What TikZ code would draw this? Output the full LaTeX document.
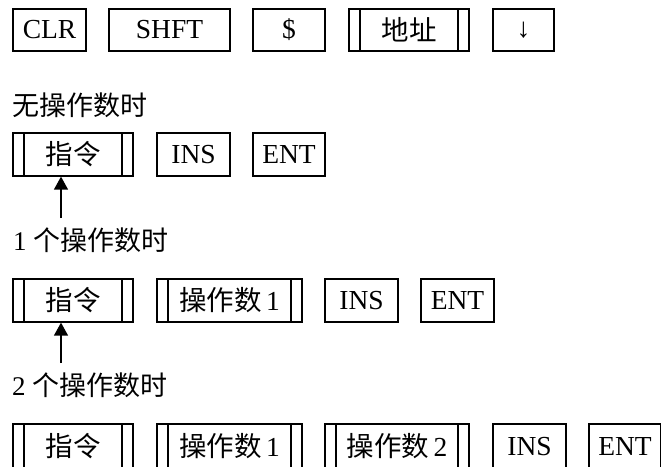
\documentclass[tikz,border=0pt]{standalone}
\usepackage{fontspec}
\setmainfont{Liberation Serif}
\newfontfamily\cjk{Noto Sans CJK SC}
\usetikzlibrary{arrows.meta}
\tikzset{
  key/.style={draw, line width=1.3pt, inner sep=0pt, minimum height=42pt,
    font=\fontsize{27.5}{31}\selectfont},
  dkey/.style={key, path picture={
    \draw[line width=1.3pt] ([xshift=11pt]path picture bounding box.north west) -- ([xshift=11pt]path picture bounding box.south west);
    \draw[line width=1.3pt] ([xshift=-11pt]path picture bounding box.north east) -- ([xshift=-11pt]path picture bounding box.south east);}},
  lbl/.style={anchor=west, inner sep=0pt, font=\fontsize{27}{31}\selectfont},
  ptr/.style={line width=1.4pt, -{Triangle[length=13pt,width=14pt]}}
}
\begin{document}
\begin{tikzpicture}[x=1pt, y=-1pt]
\useasboundingbox (0,0) rectangle (661,466);
\fill[white] (0,0) rectangle (661,466);
\clip (0,0) rectangle (661,466);
% row 1
\node[key, minimum width=73pt] (clr) at (49.5,30) {CLR};
\node[key, minimum width=121pt] (shft) at (169.5,30) {SHFT};
\node[key, minimum width=72pt] (dol) at (289,30) {\$};
\node[dkey, minimum width=120pt] (addr) at (409,30) {\cjk 地址};
\node[key, minimum width=61pt] (down) at (523.5,30) {↓};
% label
\node[lbl] (t0) at (12,105) {\cjk 无操作数时};
% row 2
\node[dkey, minimum width=120pt, minimum height=43pt] (ia) at (73,154.5) {\cjk 指令};
\node[key, minimum width=73pt, minimum height=43pt] (insa) at (193.5,154.5) {INS};
\node[key, minimum width=72pt, minimum height=43pt] (enta) at (289,154.5) {ENT};
\coordinate (pa) at (61,218);
\draw[ptr] (pa) -- (pa |- ia.south);
\node[lbl] (t1) at (13,240) {1 {\cjk 个操作数时}};
% row 3
\node[dkey, minimum width=120pt, minimum height=43pt] (ib) at (73,300.5) {\cjk 指令};
\node[dkey, minimum width=145pt, minimum height=43pt] (oba) at (229.5,300.5) {{\cjk 操作数}\,1};
\node[key, minimum width=73pt, minimum height=43pt] (insb) at (361.5,300.5) {INS};
\node[key, minimum width=73pt, minimum height=43pt] (entb) at (457.5,300.5) {ENT};
\coordinate (pb) at (61,363);
\draw[ptr] (pb) -- (pb |- ib.south);
\node[lbl] (t2) at (12,385) {2 {\cjk 个操作数时}};
% row 4 (bottom edge falls just outside the picture)
\node[dkey, minimum width=120pt, minimum height=45pt] (ic) at (73,446.5) {\cjk 指令};
\node[dkey, minimum width=145pt, minimum height=45pt] (oca) at (229.5,446.5) {{\cjk 操作数}\,1};
\node[dkey, minimum width=144pt, minimum height=45pt] (ocb) at (397,446.5) {{\cjk 操作数}\,2};
\node[key, minimum width=73pt, minimum height=45pt] (insc) at (529.5,446.5) {INS};
\node[key, minimum width=72pt, minimum height=45pt] (entc) at (625,446.5) {ENT};
\end{tikzpicture}
\end{document}
